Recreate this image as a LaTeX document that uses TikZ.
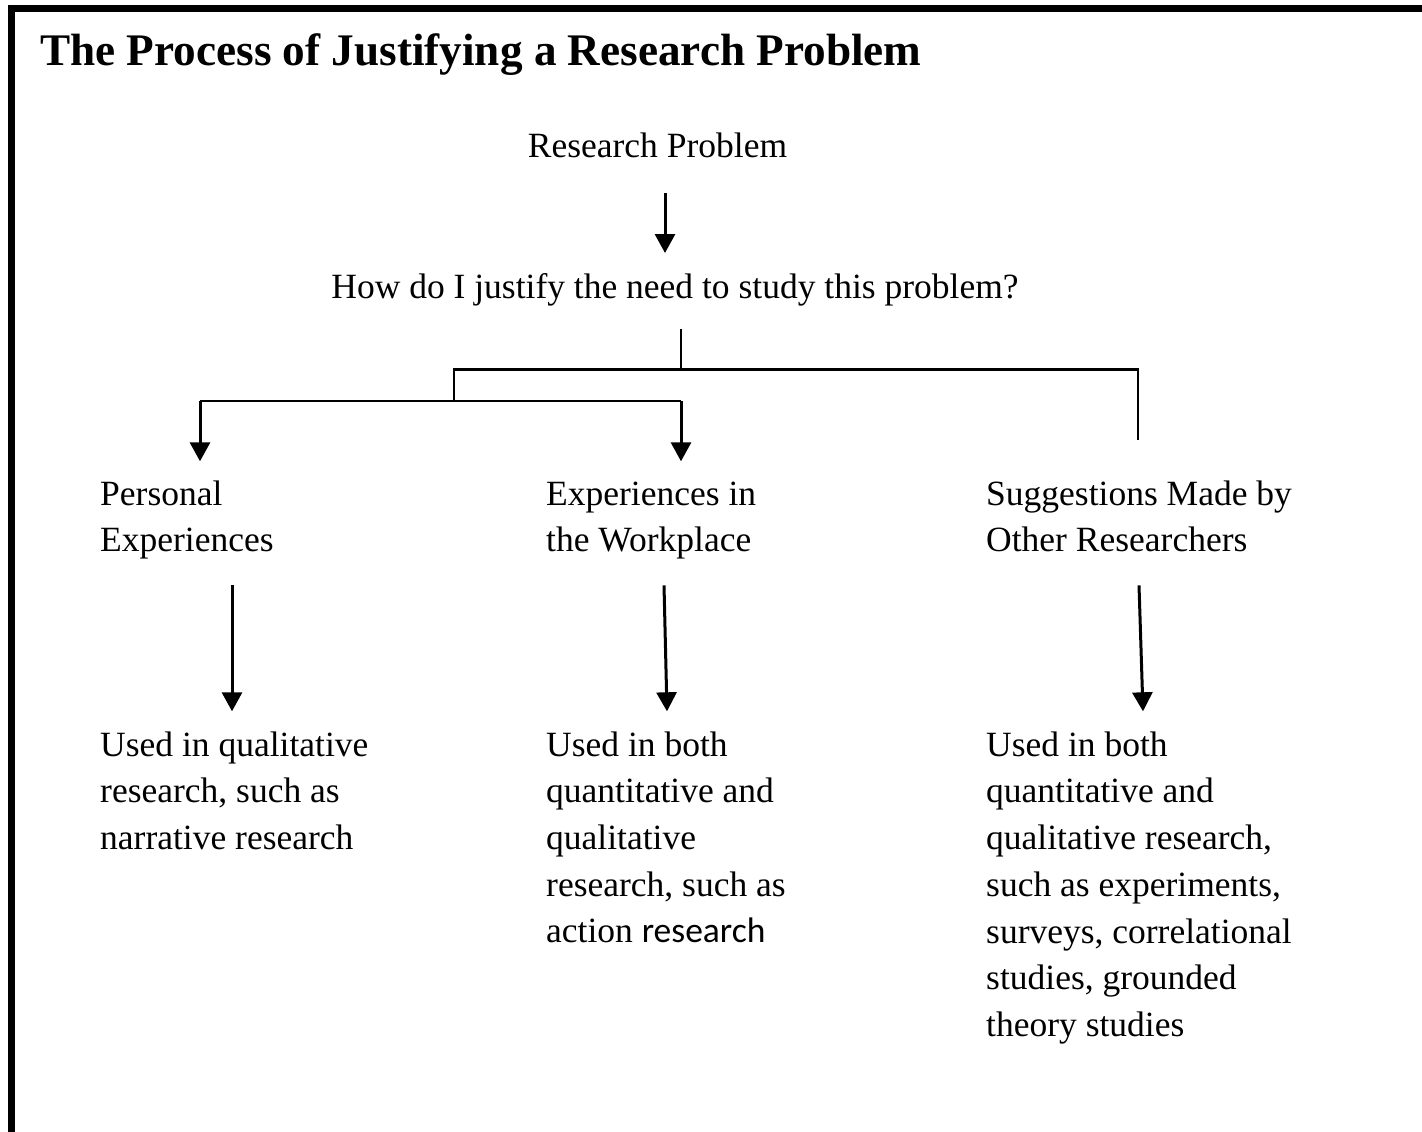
\documentclass[tikz,border=0pt]{standalone}
\usepackage{fontspec}
\setmainfont{Liberation Serif}
\newfontfamily\calibrifont{Carlito}
\usetikzlibrary{arrows.meta,calc}
\tikzset{
  ln/.style={line width=2.7pt},
  arr/.style={line width=3pt,-{Triangle[width=20pt,length=19pt]}},
  txt/.style={anchor=north west,inner sep=0pt,align=left,font=\fontsize{35.5}{46.7}\selectfont},
  ctxt/.style={anchor=base,inner sep=0pt,font=\fontsize{35.5}{46.7}\selectfont},
}
\begin{document}
\begin{tikzpicture}[x=1pt,y=-1pt]
\useasboundingbox (0,0) rectangle (1422,1132);
\draw[line width=7pt,line join=miter] (11.5,1132) -- (11.5,8.5) -- (1422,8.5);

\node[anchor=base west,inner sep=0pt,font=\fontsize{45.2}{50}\selectfont\bfseries] (title) at (40,66) {The Process of Justifying a Research Problem};

\node[ctxt] (rp) at (657.5,157) {Research Problem};
\node[ctxt] (q) at (675,298) {How do I justify the need to study this problem?};

\node[txt] (pe) at (100,472.3) {\strut Personal\\Experiences};
\node[txt] (wp) at (546,472.3) {\strut Experiences in\\the Workplace};
\node[txt] (sr) at (986,472.3) {\strut Suggestions Made by\\Other Researchers};

\node[txt] (u1) at (100,723.3) {\strut Used in qualitative\\research, such as\\narrative research};
\node[txt] (u2) at (546,723.3) {\strut Used in both\\quantitative and\\qualitative\\research, such as\\action {\calibrifont research}};
\node[txt] (u3) at (986,723.3) {\strut Used in both\\quantitative and\\qualitative research,\\such as experiments,\\surveys, correlational\\studies, grounded\\theory studies};

% top arrow
\draw[arr] ($(rp.base)+(7.5,36)$) -- ($(q.base)+(-10,-45)$);

% branching tree
\coordinate (j0) at (681,329);
\coordinate (j1) at (681,369.5);
\coordinate (jL) at (454,369.5);
\coordinate (jR) at (1138,369.5);
\coordinate (rEnd) at (1138,440);
\coordinate (jL2) at (454,401);
\coordinate (a1) at (200,401);
\coordinate (a2) at (681,401);

\draw[ln] (j0) -- (j1);
\draw[ln,line join=miter] (jL2) -- (jL) -- (jR) -- (rEnd);
\draw[ln,line join=miter] (jL2) -- (a1);
\draw[ln,line join=miter] (jL2) -- (a2);
\draw[arr] (a1) -- ($(a1 |- pe.north)+(0,-11)$);
\draw[arr] (a2) -- ($(a2 |- wp.north)+(0,-11)$);

% lower arrows
\draw[arr] ($(pe.north west)+(132,113)$) -- ($(u1.north west)+(132,-12)$);
\draw[arr] ($(wp.north west)+(118,113)$) -- ($(u2.north west)+(121,-12)$);
\draw[arr] ($(sr.north west)+(153,113)$) -- ($(u3.north west)+(157,-12)$);
\end{tikzpicture}
\end{document}
